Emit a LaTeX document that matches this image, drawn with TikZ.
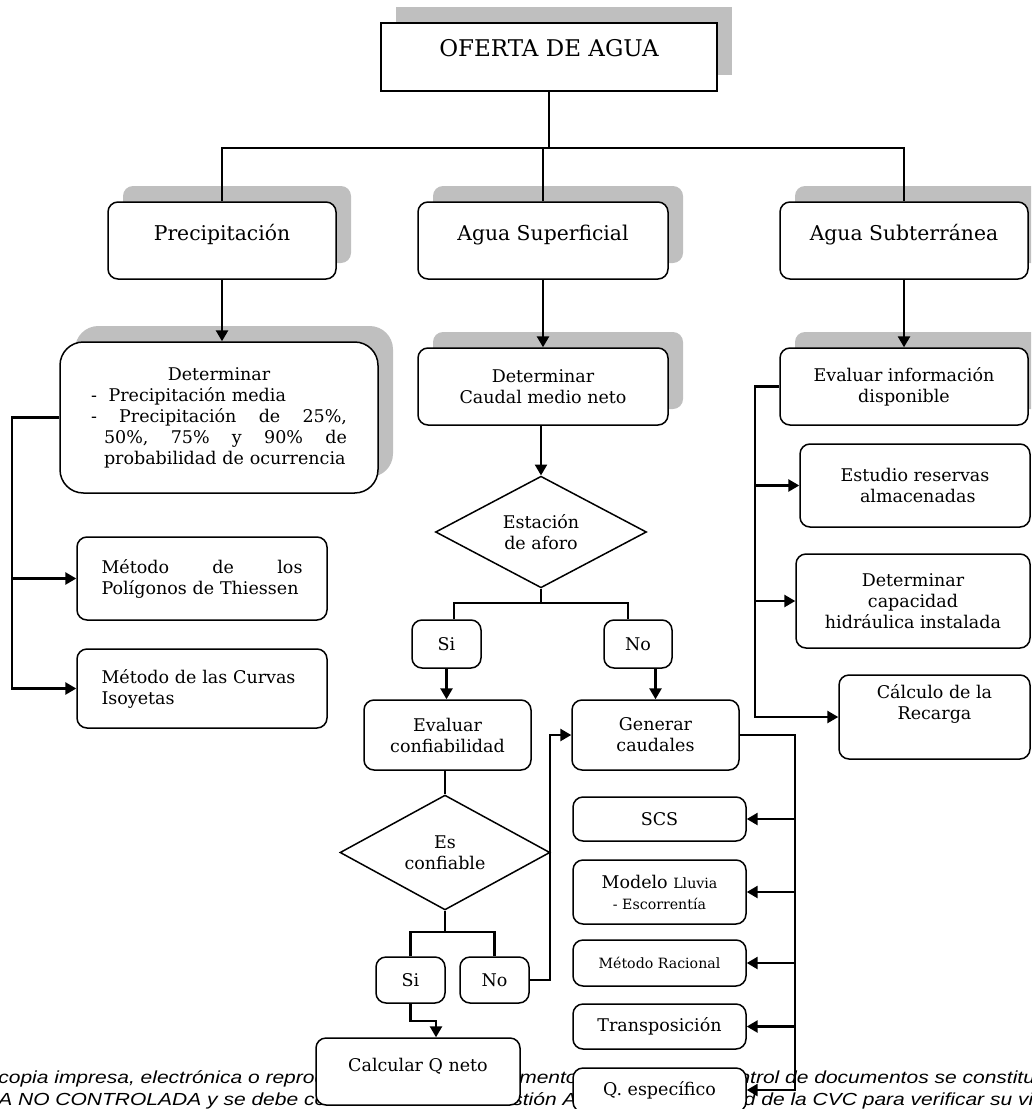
\documentclass[tikz,border=0pt]{standalone}
\usepackage{fontspec}
\setmainfont{DejaVu Serif}
\newfontfamily\footfont[FakeStretch=1.2]{Liberation Sans}
\usetikzlibrary{arrows.meta,shapes.geometric,shadows,calc}
\newcommand\smtxt{\fontsize{8.5}{10.2}\selectfont}
\tikzset{
  rbox/.style={draw, rounded corners=6pt, fill=white, line width=0.9pt, align=center,
    inner sep=2pt, font=\fontsize{10.5}{12.6}\selectfont},
  shd/.style={drop shadow={shadow xshift=9pt, shadow yshift=9.6pt, fill=gray!50, opacity=1}},
  big/.style={font=\fontsize{12.2}{14.6}\selectfont},
  hi/.style={text height=8pt, text depth=8pt},
  dec/.style={draw, diamond, fill=white, line width=0.9pt, inner sep=0pt, align=center,
    font=\fontsize{10.5}{12.6}\selectfont},
  conn/.style={line width=1.3pt},
  arr/.style={conn, -{Triangle[length=6.5pt,width=7.2pt]}},
  foot/.style={inner sep=0pt, font=\footfont\itshape\fontsize{10.5}{12}\selectfont}
}
\begin{document}
\begin{tikzpicture}[x=0.6pt,y=-0.6pt]
\useasboundingbox (0,0) rectangle (1031,1109);
\clip (0,0) rectangle (1031,1109);

\node[foot, anchor=base west] (f1a) at (-2,1083) {copia impresa, electrónica o reproducción};
\node[foot, anchor=base east] (f1b) at (578,1083) {documento};
\node[foot, anchor=base west] (f1c) at (716,1083) {control de documentos se constituye};
\node[foot, anchor=base west] (f2a) at (-2,1105) {A NO CONTROLADA y se debe consultar};
\node[foot, anchor=base west] (f2b) at (484,1105) {Gestión Ambiental};
\node[foot, anchor=base west] (f2c) at (684,1105) {Calidad de la CVC para verificar su vigencia};

\node[rbox, sharp corners, shd, hi, line width=1.2pt, font=\fontsize{13.8}{16.5}\selectfont,
  minimum width=201.6pt, minimum height=40.8pt] (oferta) at (549,57) {OFERTA DE AGUA};
\node[rbox, shd, big, hi, minimum width=136.8pt, minimum height=46.2pt] (prec) at (222,240.5) {Precipitación};
\node[rbox, shd, big, hi, minimum width=150pt, minimum height=46.2pt] (sup) at (543,240.5) {Agua Superficial};
\node[rbox, shd, big, hi, minimum width=148.8pt, minimum height=46.2pt] (sub) at (904,240.5) {Agua Subterránea};

\node[rbox, shd, rounded corners=14pt, text width=153.6pt, minimum width=190.8pt, minimum height=90.6pt] (detprec) at (219,417.5)
  {\makebox[153.6pt]{Determinar}\\
   \makebox[153.6pt][l]{-\ \ Precipitación media}\\
   \makebox[153.6pt][s]{-\hfill Precipitación\hfill de\hfill 25\%,}\\
   \hspace*{7.8pt}\makebox[145.8pt][s]{50\%,\hfill 75\%\hfill y\hfill 90\%\hfill de}\\
   \hspace*{7.8pt}\makebox[145.8pt][s]{probabilidad de ocurrencia}};
\node[rbox, text width=120.6pt, minimum width=150pt, minimum height=49.8pt] (thies) at (202,578.5)
  {\makebox[120.6pt][s]{Método\hfill de\hfill los}\\\makebox[120.6pt][l]{Polígonos de Thiessen}};
\node[rbox, text width=120.6pt, minimum width=150pt, minimum height=47.4pt] (isoy) at (202,688.5)
  {\makebox[120.6pt][s]{Método de las Curvas}\\\makebox[120.6pt][l]{Isoyetas}};

\node[rbox, shd, minimum width=150pt, minimum height=46.2pt] (detcau) at (543,386.5) {Determinar\\Caudal medio neto};
\node[dec, minimum width=126.6pt, minimum height=66.6pt] (aforo) at (541,532) {Estación\\de aforo};
\node[rbox, minimum width=41.4pt, minimum height=28.8pt] (si1) at (446.5,644) {Si};
\node[rbox, minimum width=40.8pt, minimum height=28.8pt] (no1) at (638,644) {No};
\node[rbox, minimum width=100.2pt, minimum height=42pt] (evconf) at (447.5,735) {Evaluar\\confiabilidad};
\node[rbox, minimum width=100.2pt, minimum height=42pt] (gen) at (655.5,735) {Generar\\caudales};
\node[dec, minimum width=126pt, minimum height=66.6pt] (confia) at (445,852.5) {Es\\confiable};
\node[rbox, minimum width=41.4pt, minimum height=27.6pt] (si2) at (410.5,980) {Si};
\node[rbox, minimum width=41.4pt, minimum height=27.6pt] (no2) at (494.5,980) {No};
\node[rbox, hi, minimum width=122.4pt, minimum height=40.2pt] (calc) at (418,1071.5) {Calcular Q neto};

\node[rbox, minimum width=103.8pt, minimum height=26.4pt] (scs) at (659.5,819) {SCS};
\node[rbox, minimum width=103.8pt, minimum height=38.4pt] (model) at (659.5,892) {Modelo {\smtxt Lluvia}\\{\smtxt - Escorrentía}};
\node[rbox, minimum width=103.8pt, minimum height=27.6pt] (racio) at (659.5,963) {\smtxt Método Racional};
\node[rbox, minimum width=103.8pt, minimum height=27pt] (trans) at (659.5,1026.5) {Transposición};
\node[rbox, minimum width=103.8pt, minimum height=26.4pt] (qesp) at (659.5,1090) {Q. específico};

\node[rbox, shd, minimum width=148.8pt, minimum height=46.2pt] (evinfo) at (904,386.5) {Evaluar información\\disponible};
\node[rbox, minimum width=138pt, minimum height=49.8pt] (estu) at (915,485.5) {Estudio reservas\\\ almacenadas};
\node[rbox, minimum width=140.4pt, minimum height=56.4pt] (capac) at (913,601) {Determinar\\capacidad\\hidráulica instalada};
\node[rbox, text depth=17.8pt, minimum width=114.6pt, minimum height=50.4pt] (recar) at (934.5,717) {Cálculo de la\\Recarga};

\coordinate (bar) at (549,148);
\draw[conn] (oferta.south) -- (bar);
\draw[conn] (prec.north) |- (bar) -| (sub.north);
\draw[conn] (sup.north) -- (sup.north |- bar);
\draw[arr] (prec.south) -- (prec.south |- detprec.north);
\draw[arr] (sup.south) -- (sup.south |- detcau.north);
\draw[arr] (sub.south) -- (sub.south |- evinfo.north);

\coordinate (lp) at (12,418);
\draw[arr] (detprec.west) -- (lp |- detprec.west) |- (isoy.west);
\draw[arr] (lp |- thies.west) -- (thies.west);

\draw[arr] (aforo.north |- detcau.south) -- (aforo.north);
\coordinate (b1) at (541,603);
\draw[conn] (aforo.south) -- (b1);
\draw[conn] ([xshift=4.5pt]si1.north) |- (b1) -| ([xshift=-6pt]no1.north);
\draw[arr] (si1.south) -- (si1.south |- evconf.north);
\draw[arr] (no1.south -| gen.north) -- (gen.north);
\draw[conn] (confia.north |- evconf.south) -- (confia.north);
\coordinate (b2) at (445,932);
\draw[conn] (confia.south) -- (b2);
\draw[conn] (si2.north) |- (b2) -| (no2.north);
\coordinate (nx) at (550,980);
\draw[arr] (no2.east) -- (nx) |- (gen.west);
\draw[arr] (si2.south) -- ++(0,17) -| ([xshift=10.8pt]calc.north);

\coordinate (gx) at (795,733);
\draw[arr] (gen.east) -| (gx |- qesp.east) -- (qesp.east);
\foreach \n in {scs,model,racio,trans}
  \draw[arr] (gx |- \n.east) -- (\n.east);

\coordinate (rx) at (755,387);
\draw[arr] (evinfo.west) -| (rx |- recar.west) -- (recar.west);
\foreach \n in {estu,capac}
  \draw[arr] (rx |- \n.west) -- (\n.west);
\end{tikzpicture}
\end{document}
